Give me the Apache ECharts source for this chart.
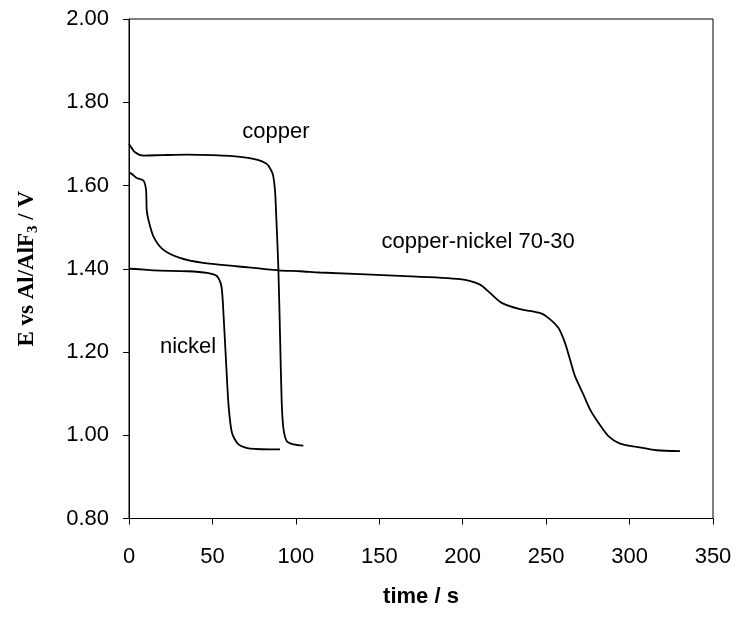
<!DOCTYPE html>
<html>
<head>
<meta charset="utf-8">
<script src="https://cdn.jsdelivr.net/npm/echarts@6/dist/echarts.min.js"></script>
<style>
  html, body { margin: 0; padding: 0; background: #fff; }
  #chart { width: 737px; height: 617px; }
</style>
</head>
<body>
<div id="chart"></div>
<script>
// Galvanostatic discharge curves: potential (V vs Al/AlF3) against time (s)
const copperTime = [0, 0.6, 3.6, 8.6, 20, 34.6, 50, 60.5, 74.5, 82.5, 86.1, 87.5, 88.1, 89.5, 90.5, 91.5, 92.5, 94.5, 98.5, 104.5];
const copperE    = [1.70, 1.696, 1.68, 1.672, 1.673, 1.674, 1.673, 1.671, 1.664, 1.652, 1.628, 1.588, 1.54, 1.403, 1.243, 1.082, 1.018, 0.986, 0.978, 0.975];

const nickelTime = [0, 0.6, 15, 35, 46.8, 52.8, 55.4, 56.7, 58.3, 59.7, 61.7, 65.6, 72.6, 90.5];
const nickelE    = [1.40, 1.40, 1.396, 1.394, 1.39, 1.382, 1.358, 1.286, 1.166, 1.070, 1.006, 0.978, 0.968, 0.966];

const cuNiTime = [0, 0.6, 4.6, 8.6, 10.2, 10.6, 11.6, 14.6, 20.5, 30.5, 44.5, 64.5, 89.5, 102.5, 114.3, 162.4, 198.4, 210.4, 216.3, 223.4, 234.3, 246.3, 251.3, 257.3, 261.3, 264.3, 267.3, 272.3, 276.3, 281.3, 287.3, 294.3, 304.3, 316.3, 330.2];
const cuNiE    = [1.63, 1.63, 1.618, 1.612, 1.59, 1.542, 1.518, 1.478, 1.446, 1.426, 1.414, 1.406, 1.396, 1.394, 1.391, 1.383, 1.375, 1.362, 1.342, 1.318, 1.303, 1.294, 1.282, 1.258, 1.222, 1.182, 1.142, 1.098, 1.062, 1.030, 0.998, 0.980, 0.972, 0.964, 0.962];

const xTicks = [0, 50, 100, 150, 200, 250, 300, 350];
const yTicks = [0.80, 1.00, 1.20, 1.40, 1.60, 1.80, 2.00];

const labels = [
  { text: 'copper', t: 88.1, e: 1.729 },
  { text: 'nickel', t: 35.4, e: 1.213 },
  { text: 'copper-nickel 70-30', t: 209.2, e: 1.465 }
];

const pair = (xs, ys) => xs.map((x, i) => [x, ys[i]]);

const chart = echarts.init(document.getElementById('chart'), null, { renderer: 'canvas' });

const lineStyle = { color: '#000', width: 1.8 };
const mkSeries = (name, data) => ({
  name, type: 'line', data, showSymbol: false, symbol: 'none',
  smooth: 0.25, lineStyle, z: 3
});

chart.setOption({
  animation: false,
  grid: { left: 129, right: 24, top: 19, bottom: 98.5, show: true, borderColor: '#000', borderWidth: 1, backgroundColor: 'transparent' },
  xAxis: {
    type: 'value', min: 0, max: 350, interval: 50,
    name: 'time / s', nameLocation: 'middle', nameGap: 67,
    nameTextStyle: { fontFamily: 'Liberation Sans', fontWeight: 'bold', fontSize: 22, color: '#000' },
    axisLine: { show: true, lineStyle: { color: '#000', width: 1 } },
    axisTick: { show: true, inside: false, length: 6, lineStyle: { color: '#000' } },
    axisLabel: { fontFamily: 'Liberation Sans', fontSize: 22, color: '#000', margin: 27,
      formatter: v => xTicks.includes(v) ? String(v) : '' },
    splitLine: { show: false }
  },
  yAxis: {
    type: 'value', min: 0.8, max: 2.0, interval: 0.2,
    name: '{m|E vs Al/AlF}{s|3}{m| / V}', nameLocation: 'middle', nameGap: 88, nameRotate: 90,
    nameTextStyle: {
      rich: {
        m: { fontFamily: 'Liberation Serif', fontWeight: 'bold', fontSize: 23, color: '#000' },
        s: { fontFamily: 'Liberation Serif', fontWeight: 'bold', fontSize: 15, color: '#000', verticalAlign: 'bottom', padding: [12, 0, 0, 0] }
      }
    },
    axisLine: { show: true, lineStyle: { color: '#000', width: 1 } },
    axisTick: { show: true, inside: false, length: 6, lineStyle: { color: '#000' } },
    axisLabel: { fontFamily: 'Liberation Sans', fontSize: 22, color: '#000', margin: 20,
      formatter: v => {
        const t = yTicks.find(y => Math.abs(y - v) < 1e-6);
        return t === undefined ? '' : t.toFixed(2);
      } },
    splitLine: { show: false }
  },
  series: [
    mkSeries('copper', pair(copperTime, copperE)),
    mkSeries('nickel', pair(nickelTime, nickelE)),
    mkSeries('copper-nickel 70-30', pair(cuNiTime, cuNiE))
  ]
});

// Curve annotations placed at data coordinates
chart.setOption({
  graphic: labels.map(l => {
    const p = chart.convertToPixel({ gridIndex: 0 }, [l.t, l.e]);
    return {
      type: 'text', x: p[0], y: p[1],
      style: { text: l.text, font: '22px "Liberation Sans"', fill: '#000', textAlign: 'center', textVerticalAlign: 'middle' },
      z: 5
    };
  })
});
</script>
</body>
</html>
